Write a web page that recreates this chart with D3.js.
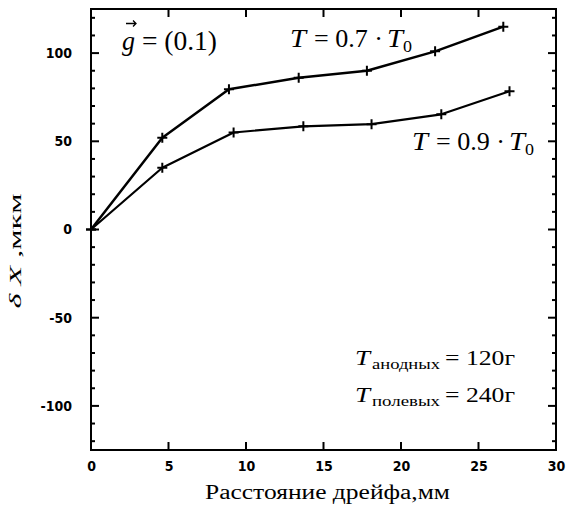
<!DOCTYPE html>
<html><head><meta charset="utf-8">
<script src="https://cdn.jsdelivr.net/npm/d3@7"></script>
<style>body{margin:0;background:#fff}svg{display:block}</style>
</head><body>
<script>
const distance07 = [0, 4.6, 8.9, 13.4, 17.8, 22.2, 26.6];
const dx07       = [0, 52, 79.5, 86, 90, 101, 115];
const distance09 = [0, 4.6, 9.2, 13.7, 18.1, 22.6, 27.0];
const dx09       = [0, 35, 55, 58.5, 59.7, 65.3, 78.4];
const xTicks = [0, 5, 10, 15, 20, 25, 30];
const yTicks = [-100, -50, 0, 50, 100];
const yMinor = d3.range(-120, 121, 10);

const W = 567, H = 512;
const m = {l: 91, r: 556, t: 9, b: 450};
const svg = d3.select("body").append("svg").attr("width", W).attr("height", H);
const x = d3.scaleLinear().domain([0, 30]).range([m.l, m.r]);
const y = d3.scaleLinear().domain([-125, 125]).range([m.b, m.t]);

svg.append("rect").attr("x", m.l).attr("y", m.t).attr("width", m.r - m.l).attr("height", m.b - m.t)
  .attr("fill", "none").attr("stroke", "#000").attr("stroke-width", 2);

const tickFont = "DejaVu Sans Condensed, DejaVu Sans, sans-serif";
const axB = d3.axisBottom(x).tickValues(xTicks).tickSize(0).tickPadding(11);
const axL = d3.axisLeft(y).tickValues(yTicks).tickSize(0).tickPadding(19).tickFormat(d => String(d));
[svg.append("g").attr("transform", `translate(0,${m.b})`).call(axB),
 svg.append("g").attr("transform", `translate(${m.l},0)`).call(axL)].forEach(a => {
  a.select(".domain").remove();
  a.selectAll("text").style("font-family", tickFont).style("font-weight", "bold")
    .attr("font-size", 14).attr("fill", "#000");
});

const tk = svg.append("g").attr("stroke", "#000").attr("stroke-width", 2);
xTicks.slice(1, -1).forEach(v => {
  tk.append("line").attr("x1", x(v)).attr("x2", x(v)).attr("y1", m.b).attr("y2", m.b - 8);
  tk.append("line").attr("x1", x(v)).attr("x2", x(v)).attr("y1", m.t).attr("y2", m.t + 8);
});
yMinor.forEach(v => {
  const len = (v % 50 === 0) ? 8 : 4;
  tk.append("line").attr("x1", m.l).attr("x2", m.l + len).attr("y1", y(v)).attr("y2", y(v));
  tk.append("line").attr("x1", m.r).attr("x2", m.r - len).attr("y1", y(v)).attr("y2", y(v));
});

const line = d3.line().x(d => x(d[0])).y(d => y(d[1]));
[[distance07, dx07, 2.5], [distance09, dx09, 2.2]].forEach(([xs, ys, sw]) => {
  const pts = xs.map((v, i) => [v, ys[i]]);
  svg.append("path").datum(pts).attr("d", line).attr("fill", "none")
    .attr("stroke", "#000").attr("stroke-width", sw).attr("stroke-linejoin", "round");
  svg.append("g").selectAll("path").data(pts).join("path")
    .attr("d", d => `M${x(d[0]) - 5},${y(d[1])}h10M${x(d[0])},${y(d[1]) - 5}v10`)
    .attr("stroke", "#000").attr("stroke-width", 2);
});

const serif = "Liberation Serif, DejaVu Serif, serif";
function piece(px, py, str, size, italic, len) {
  const t = svg.append("text").attr("x", px).attr("y", py).style("font-family", serif)
    .attr("font-size", size).attr("fill", "#000").text(str);
  if (italic) t.style("font-style", "italic");
  if (len) t.attr("textLength", len).attr("lengthAdjust", "spacingAndGlyphs");
  return t;
}
piece(122, 50, "g", 27, true, 13);
piece(142, 50, "= (0.1)", 27, false, 75);
svg.append("path").attr("d", "M126,23.5h10m-3,-3l3,3l-3,3").attr("stroke", "#000")
  .attr("fill", "none").attr("stroke-width", 1.3);

function tLabel(px, py, val) {
  piece(px, py, "T", 26, true, 16);
  piece(px + 24, py, "= " + val + " ·", 26, false, 69);
  piece(px + 97, py, "T", 26, true, 16);
  piece(px + 113, py + 5, "0", 17, false, 9);
}
tLabel(290, 47, "0.7");
tLabel(412, 150, "0.9");

function sLabel(py, sub, val) {
  piece(355, py, "T", 20, true, 15);
  piece(372, py + 4, sub, 14, false, 68);
  piece(445, py, "= " + val, 20, false, 70);
}
sLabel(365, "анодных", "120г");
sLabel(402, "полевых", "240г");

piece(205, 499, "Расстояние дрейфа,мм", 20, false, 245);
const yt = svg.append("text").attr("transform", "translate(21,251) rotate(-90)")
  .attr("text-anchor", "middle").style("font-family", serif).attr("font-size", 17)
  .attr("textLength", 115).attr("lengthAdjust", "spacingAndGlyphs");
yt.append("tspan").style("font-style", "italic").text("δ X");
yt.append("tspan").text(" ,мкм");
</script>
</body></html>
